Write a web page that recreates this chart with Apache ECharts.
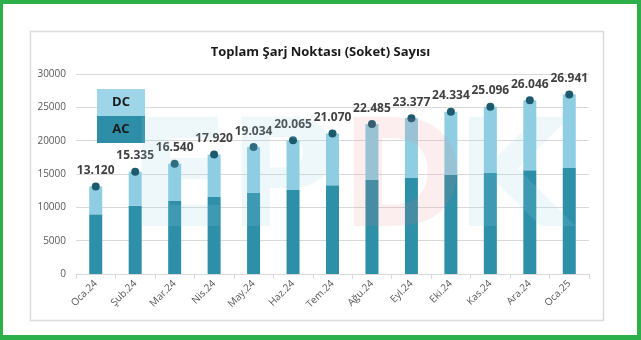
<!DOCTYPE html>
<html>
<head>
<meta charset="utf-8">
<script src="https://cdn.jsdelivr.net/npm/echarts@6/dist/echarts.min.js"></script>
<style>
html,body{margin:0;padding:0;background:#fff;}
#wrap{position:relative;width:641px;height:340px;overflow:hidden;}
#c{position:absolute;left:0;top:0;width:641px;height:340px;}
#frame{position:absolute;left:0;top:0;width:641px;height:340px;box-sizing:border-box;border:4px solid #2bb04a;border-bottom-width:5px;border-left-width:3px;pointer-events:none;}
</style>
</head>
<body>
<div id="wrap"><div id="c"></div><div id="frame"></div></div>
<script>
var categories = ['Oca.24','Şub.24','Mar.24','Nis.24','May.24','Haz.24','Tem.24','Ağu.24','Eyl.24','Eki.24','Kas.24','Ara.24','Oca.25'];
var acValues = [8950,10250,10950,11550,12150,12600,13300,14100,14400,14850,15150,15550,15900];
var dcValues = [4170,5085,5590,6370,6884,7465,7770,8385,8977,9484,9946,10496,11041];
var totalValues = [13120,15335,16540,17920,19034,20065,21070,22485,23377,24334,25096,26046,26941];
var yTicks = [0,5000,10000,15000,20000,25000,30000];
var titleText = 'Toplam Şarj Noktası (Soket) Sayısı';

function fmt(v){
  var s = String(Math.round(v));
  return s.replace(/\B(?=(\d{3})+(?!\d))/g, '.');
}

var chart = echarts.init(document.getElementById('c'), null, {renderer:'canvas'});
var wmFont = 'bold 150px "DejaVu Sans"';
var wmBlue = 'rgba(150,210,232,0.16)';
var wmPink = 'rgba(235,120,130,0.13)';
chart.setOption({
  animation:false,
  backgroundColor:'#fff',
  title:{
    text:titleText, left:'center', top:41,
    textStyle:{fontFamily:'Open Sans', fontWeight:'bold', fontSize:13, color:'#1a1a1a'}
  },
  grid:{left:76, right:52, top:74, bottom:66},
  xAxis:{
    type:'category', data:categories,
    axisLine:{lineStyle:{color:'#d9d9d9'}},
    axisTick:{show:true, lineStyle:{color:'#d9d9d9'}},
    axisLabel:{rotate:45, fontFamily:'Open Sans', fontSize:10, color:'#595959', margin:8}
  },
  yAxis:{
    type:'value', min:yTicks[0], max:yTicks[yTicks.length-1], interval:5000,
    axisLine:{show:false}, axisTick:{show:false},
    splitLine:{lineStyle:{color:'#d9d9d9'}},
    axisLabel:{fontFamily:'Open Sans', fontSize:10, color:'#595959', margin:10,
      formatter:function(v){return String(v);}}
  },
  graphic:[
    {type:'rect', shape:{x:30.5,y:31.5,width:573,height:289}, style:{fill:'none', stroke:'#dcdcdc', lineWidth:1.5}, z:-10},
    {type:'rect', shape:{x:97,y:89,width:48,height:27}, style:{fill:'#9fd5e8'}, z:5},
    {type:'rect', shape:{x:97,y:116,width:48,height:27}, style:{fill:'#2e8ea7'}, z:5},
    {type:'text', x:121, y:102.5, style:{text:'DC', fill:'#1a1a1a', font:'bold 13px "Open Sans"', textAlign:'center', textVerticalAlign:'middle'}, z:6},
    {type:'text', x:121, y:129.5, style:{text:'AC', fill:'#1a1a1a', font:'bold 13px "Open Sans"', textAlign:'center', textVerticalAlign:'middle'}, z:6},
    {type:'text', x:128, y:262, style:{text:'E', fill:wmBlue, font:wmFont, textVerticalAlign:'bottom'}, z:20, silent:true},
    {type:'text', x:228, y:262, style:{text:'P', fill:wmBlue, font:wmFont, textVerticalAlign:'bottom'}, z:20, silent:true},
    {type:'text', x:340, y:262, style:{text:'D', fill:wmPink, font:wmFont, textVerticalAlign:'bottom'}, z:20, silent:true},
    {type:'text', x:455, y:262, style:{text:'K', fill:wmBlue, font:wmFont, textVerticalAlign:'bottom'}, z:20, silent:true}
  ],
  series:[
    {name:'AC', type:'bar', stack:'s', data:acValues, barWidth:13, itemStyle:{color:'#2e8fa8'}},
    {name:'DC', type:'bar', stack:'s', data:dcValues, barWidth:13, itemStyle:{color:'#8ecde2'}},
    {name:'Toplam', type:'line', data:totalValues, symbol:'circle', symbolSize:8,
     lineStyle:{width:0, opacity:0}, itemStyle:{color:'#1e5a6e'},
     label:{show:true, position:'top', distance:6, formatter:function(p){return fmt(p.value);},
       fontFamily:'Open Sans', fontWeight:'bold', fontSize:12, color:'#404040'}, z:10}
  ]
});
</script>
</body>
</html>
